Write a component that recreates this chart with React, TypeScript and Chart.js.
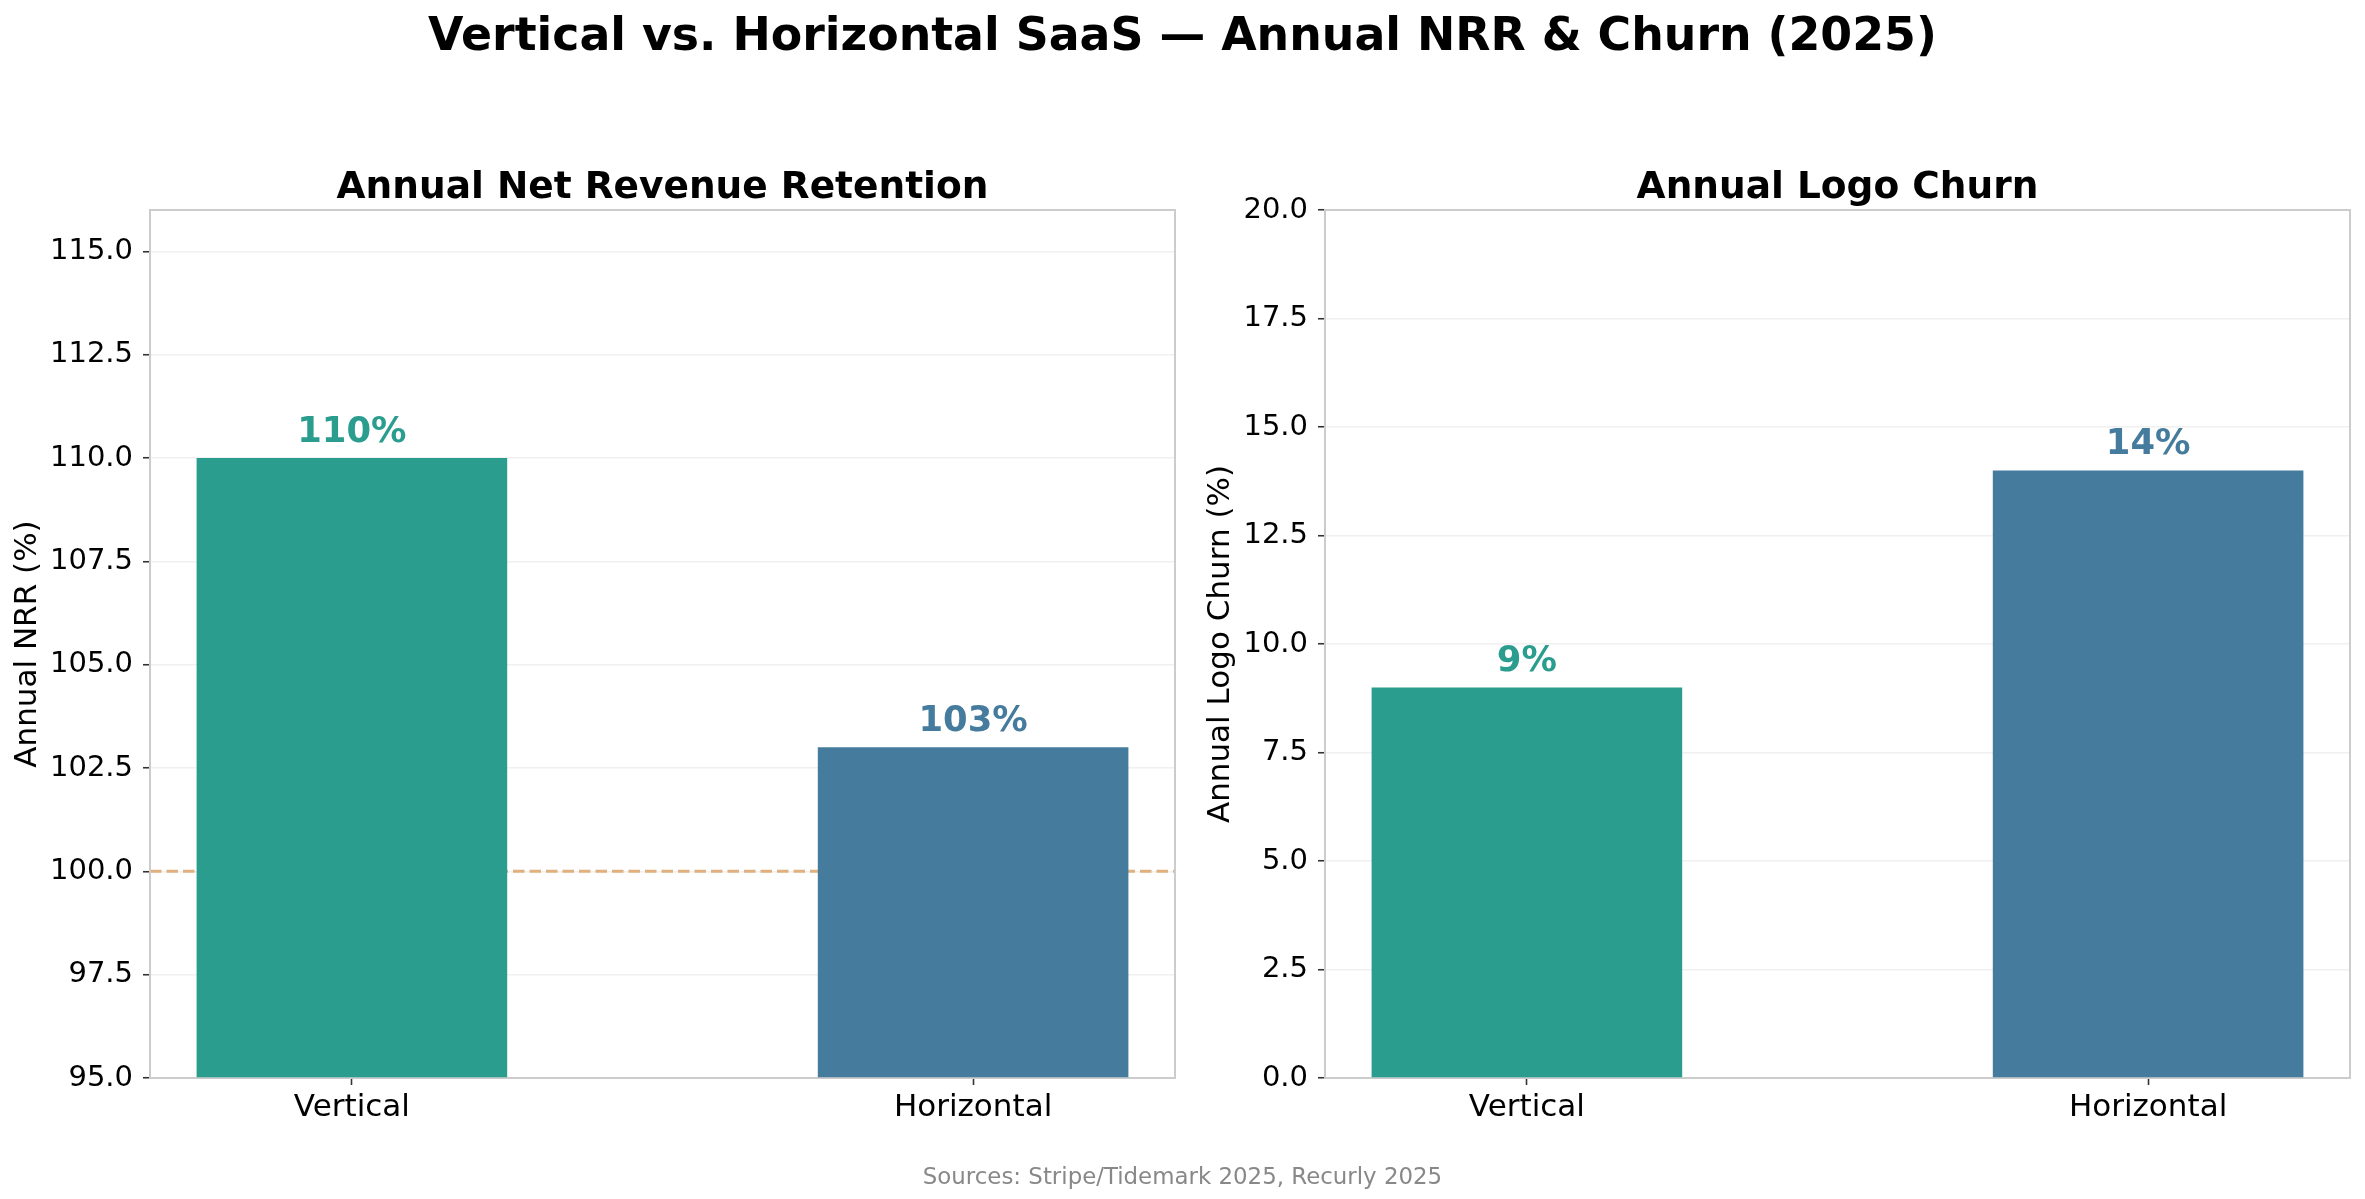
import { useEffect, useRef } from 'react';
import { Chart, registerables } from 'chart.js';

Chart.register(...registerables);

// ---- data ----
const SEGMENTS = ['Vertical', 'Horizontal'];
const SEGMENT_POSITIONS = [0, 1];
const NRR_VALUES = [110, 103];
const CHURN_VALUES = [9, 14];
const NRR_TICKS = [95, 97.5, 100, 102.5, 105, 107.5, 110, 112.5, 115];
const CHURN_TICKS = [0, 2.5, 5, 7.5, 10, 12.5, 15, 17.5, 20];
const NRR_RANGE = [95, 116];
const CHURN_RANGE = [0, 20];
const NRR_BREAKEVEN = 100;
const X_RANGE = [-0.325, 1.325];

const FIGURE_TITLE = 'Vertical vs. Horizontal SaaS — Annual NRR & Churn (2025)';
const SOURCE_NOTE = 'Sources: Stripe/Tidemark 2025, Recurly 2025';

// ---- styles ----
const FONT = '"DejaVu Sans", "Liberation Sans", sans-serif';
const SEGMENT_COLORS = ['#2a9d8f', '#457b9d'];
const FRAME_COLOR = '#cccccc';
const GRID_COLOR = '#f0f0f0';
const TICK_COLOR = '#333333';
const REF_LINE_COLOR = '#e0b07f';
const W = 2365;
const H = 1199;

type PanelOpts = { title: string; refLine?: number | null };

// Frame, reference line, value labels and panel title
const panelDecor = {
  id: 'panelDecor',
  beforeDatasetsDraw(chart: any, _args: any, opts: PanelOpts) {
    const { ctx, chartArea: a, scales } = chart;
    if (opts.refLine != null) {
      const y = scales.y.getPixelForValue(opts.refLine);
      ctx.save();
      ctx.strokeStyle = REF_LINE_COLOR;
      ctx.lineWidth = 3;
      ctx.setLineDash([11.5, 5]);
      ctx.beginPath();
      ctx.moveTo(a.left, y);
      ctx.lineTo(a.right, y);
      ctx.stroke();
      ctx.restore();
    }
    ctx.save();
    ctx.strokeStyle = FRAME_COLOR;
    ctx.lineWidth = 2;
    ctx.strokeRect(a.left, a.top, a.right - a.left, a.bottom - a.top);
    ctx.restore();
  },
  afterDatasetsDraw(chart: any, _args: any, opts: PanelOpts) {
    const { ctx, chartArea: a } = chart;
    const ds = chart.data.datasets[0];
    const meta = chart.getDatasetMeta(0);
    ctx.save();
    ctx.font = `bold 35.4px ${FONT}`;
    ctx.textAlign = 'center';
    ctx.textBaseline = 'alphabetic';
    meta.data.forEach((bar: any, i: number) => {
      const v = ds.data[i].y;
      ctx.fillStyle = SEGMENT_COLORS[i];
      ctx.fillText(`${v}%`, bar.x, bar.y - 16);
    });
    ctx.fillStyle = '#000';
    ctx.font = `bold 37.5px ${FONT}`;
    ctx.fillText(opts.title, (a.left + a.right) / 2, a.top - 12);
    ctx.restore();
  },
};

// Figure-level heading and source note
const figureText = {
  id: 'figureText',
  afterDraw(chart: any) {
    const { ctx } = chart;
    ctx.save();
    ctx.textAlign = 'center';
    ctx.textBaseline = 'alphabetic';
    ctx.fillStyle = '#000';
    ctx.font = `bold 45.8px ${FONT}`;
    ctx.fillText(FIGURE_TITLE, W / 2, 50);
    ctx.fillStyle = '#888888';
    ctx.font = `22.9px ${FONT}`;
    ctx.fillText(SOURCE_NOTE, W / 2, 1184);
    ctx.restore();
  },
};

function makeConfig(p: {
  values: number[];
  ticks: number[];
  range: number[];
  yTitle: string;
  title: string;
  refLine: number | null;
  padLeft: number;
  padRight: number;
  yTitlePad: number;
  extraPlugins: any[];
}): any {
  return {
    type: 'bar',
    data: {
      datasets: [
        {
          data: SEGMENT_POSITIONS.map((x, i) => ({ x, y: p.values[i] })),
          backgroundColor: SEGMENT_COLORS,
          borderWidth: 0,
          categoryPercentage: 1,
          barPercentage: 0.5,
          base: p.range[0],
        },
      ],
    },
    plugins: [panelDecor, ...p.extraPlugins],
    options: {
      responsive: false,
      animation: false,
      devicePixelRatio: 1,
      layout: { padding: { left: p.padLeft, right: p.padRight, top: 210, bottom: 0 } },
      plugins: {
        legend: { display: false },
        tooltip: { enabled: false },
        title: { display: false },
        panelDecor: { title: p.title, refLine: p.refLine },
      },
      scales: {
        x: {
          type: 'linear',
          min: X_RANGE[0],
          max: X_RANGE[1],
          bounds: 'data',
          offset: false,
          afterBuildTicks: (s: any) => {
            s.ticks = SEGMENT_POSITIONS.map((v) => ({ value: v }));
          },
          afterFit: (s: any) => {
            s.height = 121;
          },
          ticks: {
            callback: (_v: any, i: number) => SEGMENTS[i],
            font: { family: FONT, size: 31 },
            color: '#000',
            padding: 4,
            maxRotation: 0,
            autoSkip: false,
          },
          grid: {
            offset: false,
            drawOnChartArea: false,
            tickLength: 7,
            tickColor: TICK_COLOR,
            tickWidth: 1.6,
          },
          border: { display: false },
        },
        y: {
          type: 'linear',
          min: p.range[0],
          max: p.range[1],
          bounds: 'data',
          afterBuildTicks: (s: any) => {
            s.ticks = p.ticks.map((v) => ({ value: v }));
          },
          afterFit: (s: any) => {
            s.width = 150;
          },
          ticks: {
            callback: (v: any) => Number(v).toFixed(1),
            font: { family: FONT, size: 29 },
            color: '#000',
            padding: 10,
            autoSkip: false,
          },
          grid: {
            color: GRID_COLOR,
            lineWidth: 1.5,
            tickLength: 7,
            tickColor: TICK_COLOR,
            tickWidth: 1.6,
          },
          border: { display: false },
          title: {
            display: true,
            text: p.yTitle,
            font: { family: FONT, size: 31 },
            color: '#000',
            padding: { top: p.yTitlePad, bottom: 0 },
          },
        },
      },
    },
  };
}

export default function App() {
  const leftRef = useRef<HTMLCanvasElement>(null);
  const rightRef = useRef<HTMLCanvasElement>(null);

  useEffect(() => {
    document.body.style.margin = '0';
    document.body.style.overflow = 'hidden';
    const left = new Chart(
      leftRef.current!,
      makeConfig({
        values: NRR_VALUES,
        ticks: NRR_TICKS,
        range: NRR_RANGE,
        yTitle: 'Annual NRR (%)',
        title: 'Annual Net Revenue Retention',
        refLine: NRR_BREAKEVEN,
        padLeft: 0,
        padRight: W - 1175,
        yTitlePad: 9.25,
        extraPlugins: [figureText],
      })
    );
    const right = new Chart(
      rightRef.current!,
      makeConfig({
        values: CHURN_VALUES,
        ticks: CHURN_TICKS,
        range: CHURN_RANGE,
        yTitle: 'Annual Logo Churn (%)',
        title: 'Annual Logo Churn',
        refLine: null,
        padLeft: 1175,
        padRight: W - 2350,
        yTitlePad: 27.25,
        extraPlugins: [],
      })
    );
    return () => {
      left.destroy();
      right.destroy();
    };
  }, []);

  return (
    <div
      style={{
        position: 'absolute',
        left: 0,
        top: 0,
        width: W,
        height: H,
        background: '#ffffff',
        overflow: 'hidden',
      }}
    >
      <canvas ref={leftRef} width={W} height={H} style={{ position: 'absolute', left: 0, top: 0 }} />
      <canvas ref={rightRef} width={W} height={H} style={{ position: 'absolute', left: 0, top: 0 }} />
    </div>
  );
}
